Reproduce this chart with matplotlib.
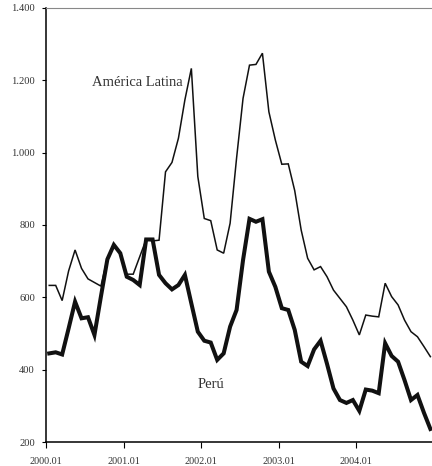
import matplotlib
matplotlib.use("Agg")
import matplotlib.pyplot as plt
from matplotlib.ticker import FuncFormatter

# monthly series, 2000.01 - 2004.12
america_latina = [633, 633, 591, 673, 731, 680, 651, 641, 631, 708,
                  745, 722, 664, 664, 712, 760, 756, 758, 947, 973,
                  1040, 1146, 1233, 934, 818, 812, 731, 722, 805, 985,
                  1150, 1242, 1244, 1275, 1113, 1035, 968, 969, 895, 786,
                  708, 676, 685, 657, 620, 597, 574, 537, 496, 551,
                  548, 546, 639, 602, 579, 537, 505, 491, 464, 436]
peru = [445, 448, 442, 514, 588, 542, 545, 496, 602, 705,
        745, 722, 657, 648, 634, 760, 760, 662, 639, 622,
        634, 662, 583, 505, 480, 475, 427, 445, 519, 565,
        703, 817, 809, 816, 671, 629, 570, 565, 510, 422,
        410, 456, 480, 416, 348, 316, 308, 316, 286, 345,
        342, 335, 473, 438, 422, 371, 316, 330, 281, 236]
year_labels = ["2000.01", "2001.01", "2002.01", "2003.01", "2004.01"]
y_ticks = [200, 400, 600, 800, 1000, 1200, 1400]

plt.rcParams['font.family'] = ['Liberation Serif', 'DejaVu Serif']

fig = plt.figure(figsize=(4.32, 4.66), dpi=100)
ax = fig.add_axes([46 / 432, 1 - 442 / 466, 386 / 432, 434 / 466])

months = list(range(len(peru)))
ax.plot(months, america_latina, color='#111111', lw=1.1, solid_joinstyle='miter')
ax.plot(months, peru, color='#111111', lw=2.9, solid_joinstyle='miter')

ax.set_xlim(-0.5, 59.25)
ax.set_ylim(200, 1400)
ax.set_xticks([-0.5 + 12 * k for k in range(len(year_labels))])
ax.set_xticklabels(year_labels)
ax.set_yticks(y_ticks)
ax.yaxis.set_major_formatter(FuncFormatter(lambda v, p: f"{int(v):,}".replace(",", ".")))

ax.tick_params(axis='x', direction='out', length=4, pad=7, labelsize=7.3, colors='#333333')
ax.tick_params(axis='y', direction='out', length=3, pad=5, labelsize=7.6, colors='#333333')
ax.tick_params(axis='both', color='black')

ax.spines['right'].set_visible(False)
ax.spines['top'].set_color('#888888')
ax.spines['left'].set_linewidth(1.1)
ax.spines['bottom'].set_linewidth(1.1)

ax.text(20.7, 1195, "América Latina", ha='right', va='center', fontsize=10.5, color='#333333')
ax.text(22.9, 360, "Perú", ha='left', va='center', fontsize=10.5, color='#333333')

fig.savefig("out.png", dpi=100)
